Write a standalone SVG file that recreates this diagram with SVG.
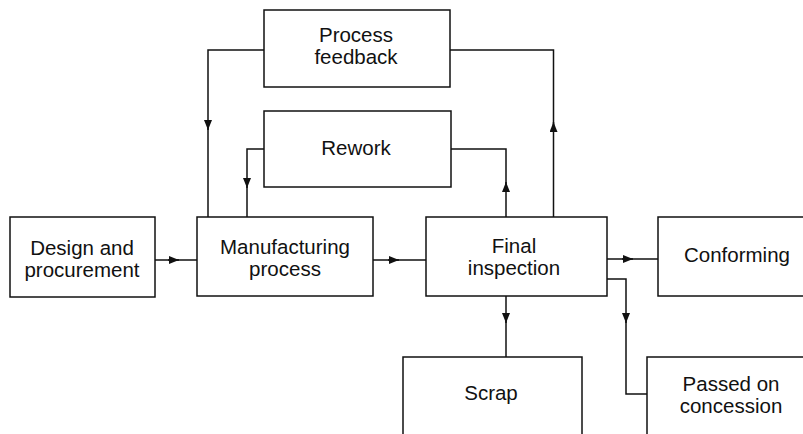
<svg xmlns="http://www.w3.org/2000/svg" width="803" height="434" viewBox="0 0 803 434">
<style>
.box{fill:#fff;stroke:#111;stroke-width:1.5}
.ln{fill:none;stroke:#111;stroke-width:1.5}
text{font-family:"Liberation Sans",Arial,sans-serif;font-size:20.5px;fill:#111;text-anchor:middle}
</style>
<defs>
<marker id="ah" viewBox="0 0 10 8" refX="10" refY="4" markerWidth="10" markerHeight="8" markerUnits="userSpaceOnUse" orient="auto">
<path d="M0,0 L10,4 L0,8 Z" fill="#111"/>
</marker>
</defs>
<rect width="803" height="434" fill="#fff"/>
<g id="connectors">
<path class="ln" d="M264,50 H208 V217"/>
<path class="ln" d="M450,50 H553.5 V217"/>
<path class="ln" d="M264,149 H247 V217"/>
<path class="ln" d="M451,149 H506 V217"/>
<path class="ln" d="M155,260 H197"/>
<path class="ln" d="M373,260 H426"/>
<path class="ln" d="M607,259 H658"/>
<path class="ln" d="M506,296 V357"/>
<path class="ln" d="M607,279 H626 V394 H647"/>
<path class="ln" marker-end="url(#ah)" d="M208,120 V130"/>
<path class="ln" marker-end="url(#ah)" d="M553.5,132 V122"/>
<path class="ln" marker-end="url(#ah)" d="M247,178 V188"/>
<path class="ln" marker-end="url(#ah)" d="M506,192 V182"/>
<path class="ln" marker-end="url(#ah)" d="M168,260 H179"/>
<path class="ln" marker-end="url(#ah)" d="M388,260 H399"/>
<path class="ln" marker-end="url(#ah)" d="M622,259 H633"/>
<path class="ln" marker-end="url(#ah)" d="M506,313 V323"/>
<path class="ln" marker-end="url(#ah)" d="M626,313 V323"/>
</g>
<g id="process-feedback">
<rect class="box" x="264" y="10" width="186" height="77"/>
<text x="356" y="42">Process</text>
<text x="356" y="64">feedback</text>
</g>
<g id="rework">
<rect class="box" x="264" y="111" width="187" height="76"/>
<text x="356" y="155">Rework</text>
</g>
<g id="design">
<rect class="box" x="10" y="217" width="145" height="80"/>
<text x="82" y="255">Design and</text>
<text x="82" y="277">procurement</text>
</g>
<g id="manufacturing">
<rect class="box" x="197" y="217" width="176" height="79"/>
<text x="285" y="254">Manufacturing</text>
<text x="285" y="276">process</text>
</g>
<g id="final-inspection">
<rect class="box" x="426" y="217" width="181" height="79"/>
<text x="514" y="253">Final</text>
<text x="514" y="275">inspection</text>
</g>
<g id="conforming">
<rect class="box" x="658" y="217" width="160" height="79"/>
<text x="737" y="262">Conforming</text>
</g>
<g id="scrap">
<rect class="box" x="403" y="357" width="179" height="90"/>
<text x="491" y="400">Scrap</text>
</g>
<g id="passed-on-concession">
<rect class="box" x="647" y="357" width="170" height="90"/>
<text x="731" y="391">Passed on</text>
<text x="731" y="413">concession</text>
</g>
</svg>
